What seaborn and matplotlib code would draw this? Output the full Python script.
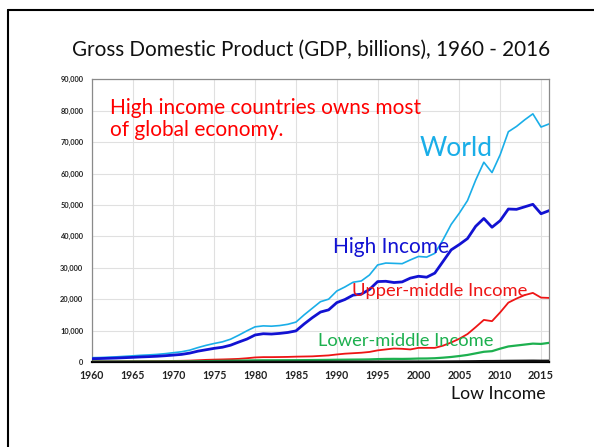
import matplotlib
matplotlib.use("Agg")
import matplotlib.pyplot as plt
import numpy as np
import pandas as pd
import seaborn as sns

# GDP in billions of current US dollars
years = list(range(1960, 2017))
world = [1370, 1420, 1530, 1640, 1800, 1960, 2130, 2260, 2420, 2660,
         2960, 3260, 3770, 4590, 5300, 5900, 6420, 7260, 8540, 9930,
         11200, 11500, 11400, 11600, 12000, 12700, 15000, 17100, 19200, 20000,
         22600, 23900, 25400, 25800, 27700, 30900, 31500, 31400, 31300, 32500,
         33600, 33400, 34600, 38900, 43800, 47400, 51400, 57900, 63600, 60300,
         66000, 73300, 75000, 77100, 79000, 74800, 75800]
high_income = [1050, 1100, 1180, 1260, 1370, 1480, 1610, 1710, 1830, 2000,
               2200, 2420, 2830, 3450, 3900, 4350, 4700, 5350, 6350, 7300,
               8600, 9000, 8900, 9100, 9400, 9900, 12100, 14100, 15900, 16600,
               18900, 19900, 21300, 21600, 23100, 25600, 25700, 25300, 25500, 26700,
               27300, 27000, 28300, 32000, 35700, 37400, 39300, 43200, 45700, 42900,
               45000, 48700, 48600, 49400, 50200, 47200, 48200]
upper_middle = [150, 160, 170, 180, 200, 220, 240, 260, 280, 310,
                350, 390, 450, 560, 680, 760, 820, 900, 1000, 1200,
                1450, 1550, 1550, 1580, 1620, 1700, 1750, 1800, 1950, 2100,
                2400, 2650, 2800, 2950, 3200, 3700, 4000, 4300, 4200, 4000,
                4500, 4500, 4500, 5200, 6200, 7400, 8900, 11100, 13400, 13000,
                15800, 18900, 20200, 21300, 22000, 20500, 20400]
lower_middle = [100, 105, 110, 115, 125, 135, 140, 145, 150, 165,
                180, 190, 200, 230, 290, 330, 360, 400, 440, 480,
                530, 550, 550, 560, 570, 580, 600, 620, 650, 680,
                720, 740, 770, 790, 830, 920, 980, 1000, 980, 1020,
                1100, 1120, 1200, 1380, 1600, 1900, 2250, 2750, 3250, 3450,
                4250, 4950, 5250, 5550, 5850, 5750, 6100]
low_income = [30, 32, 34, 36, 38, 40, 42, 44, 46, 48,
              50, 52, 55, 60, 65, 70, 72, 75, 80, 85,
              90, 92, 92, 93, 94, 95, 98, 100, 102, 105,
              110, 112, 112, 112, 115, 120, 125, 128, 128, 130,
              132, 135, 140, 150, 170, 190, 215, 250, 300, 310,
              340, 370, 390, 410, 430, 400, 410]

series_names = ["World", "High Income", "Upper-middle Income",
                "Lower-middle Income", "Low Income"]
series_values = [world, high_income, upper_middle, lower_middle, low_income]
series_colors = ["#1AAEE8", "#1212D2", "#EE1515", "#1DB04F", "#111111"]
series_widths = [1.2, 2.0, 1.3, 1.6, 1.6]

x_ticks = [1960, 1965, 1970, 1975, 1980, 1985, 1990, 1995, 2000, 2005, 2010, 2015]
y_ticks = [0, 10000, 20000, 30000, 40000, 50000, 60000, 70000, 80000, 90000]

df = pd.DataFrame({
    "Year": np.tile(years, len(series_names)),
    "GDP": np.concatenate(series_values),
    "Group": np.repeat(series_names, len(years)),
})

sns.set_style("whitegrid")
plt.rcParams["font.family"] = ["Lato", "DejaVu Sans"]

W, H = 594, 447
fig = plt.figure(figsize=(W / 100, H / 100), dpi=100)
ax = fig.add_axes([91.7 / W, 1 - 362 / H, (549.2 - 91.7) / W, (362 - 79.3) / H])

for name, color, lw in zip(series_names, series_colors, series_widths):
    sns.lineplot(data=df[df["Group"] == name], x="Year", y="GDP",
                 color=color, linewidth=lw, ax=ax, zorder=3)

ax.set_xlim(1960, 2016)
ax.set_ylim(0, 90000)
ax.set_xticks(x_ticks)
ax.set_yticks(y_ticks)
ax.set_xticklabels([str(t) for t in x_ticks])
ax.set_yticklabels([f"{t:,}" for t in y_ticks])
ax.set_xlabel("")
ax.set_ylabel("")
ax.grid(True, color="#E0E0E0", linewidth=0.8)
ax.tick_params(axis="both", length=0, colors="#222222")
for lab in ax.get_yticklabels():
    lab.set_fontsize(5.4)
    lab.set_fontweight("bold")
for lab in ax.get_xticklabels():
    lab.set_fontsize(7.6)
    lab.set_fontweight("bold")
ax.get_xticklabels()[-1].set_fontsize(8.0)
ax.tick_params(axis="x", pad=6)
ax.tick_params(axis="y", pad=6)

for side in ["left", "top", "right"]:
    ax.spines[side].set_color("#8A8A8A")
    ax.spines[side].set_linewidth(0.9)
ax.spines["bottom"].set_color("#000000")
ax.spines["bottom"].set_linewidth(1.6)


def ftext(x, y, s, **kw):
    fig.text(x / W, 1 - y / H, s, **kw)


# slide frame
fig.add_artist(plt.Line2D([8 / W, 8 / W], [0, 1 - 10 / H], color="black", lw=1.5))
fig.add_artist(plt.Line2D([8 / W, 1], [1 - 10 / H, 1 - 10 / H], color="black", lw=1.5))

ftext(311.5, 50, "Gross Domestic Product (GDP, billions), 1960 - 2016",
      fontsize=14.9, ha="center", va="center", color="#111111")
ftext(110, 119, "High income countries owns most\nof global economy.",
      fontsize=15.0, ha="left", va="center", color="#FF0000", linespacing=1.12)
ftext(420, 148, "World", fontsize=19, ha="left", va="center", color="#1AAEE8")
ftext(333, 247, "High Income", fontsize=15, ha="left", va="center", color="#1212D2")
ftext(351.5, 291, "Upper-middle Income", fontsize=13.2, ha="left", va="center", color="#EE1515")
ftext(318, 341, "Lower-middle Income", fontsize=13.2, ha="left", va="center", color="#1DB04F")
ftext(451, 394, "Low Income", fontsize=12.7, ha="left", va="center", color="#111111")

fig.savefig("out.png", dpi=100, facecolor="white")
